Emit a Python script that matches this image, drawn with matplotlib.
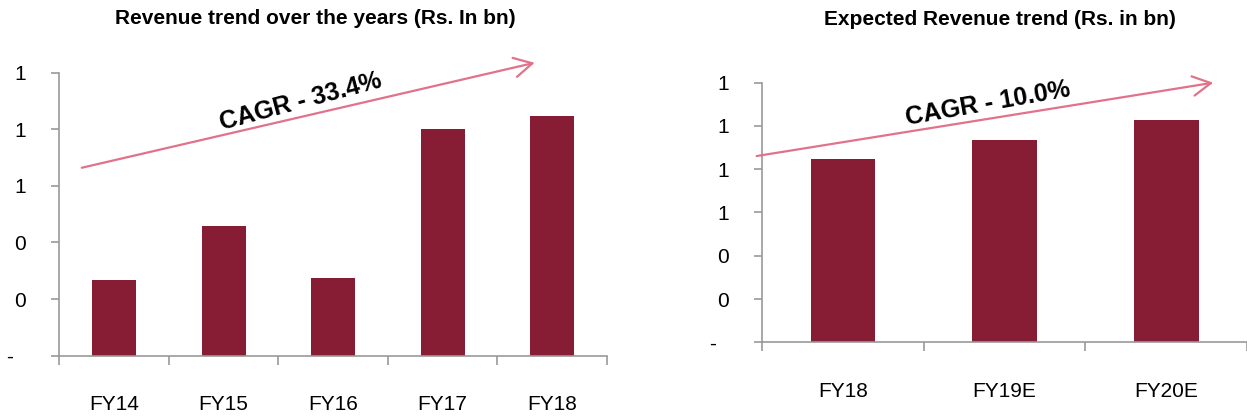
import matplotlib
matplotlib.use('Agg')
from matplotlib import pyplot as plt
from matplotlib.ticker import FixedLocator

plt.rcParams['font.family'] = ['Liberation Sans', 'DejaVu Sans']

# Historic revenue (Rs. bn)
years_hist = ['FY14', 'FY15', 'FY16', 'FY17', 'FY18']
rev_hist = [0.268, 0.457, 0.276, 0.80, 0.848]
hist_ticks = [0, 0.2, 0.4, 0.6, 0.8, 1.0]
hist_tick_labels = ['-\u2007', '0', '0', '1', '1', '1']

# Expected revenue (Rs. bn)
years_exp = ['FY18', 'FY19E', 'FY20E']
rev_exp = [0.845, 0.937, 1.029]
exp_ticks = [0, 0.2, 0.4, 0.6, 0.8, 1.0, 1.2]
exp_tick_labels = ['-\u2007', '0', '0', '1', '1', '1', '1']

bar_color = '#861D34'
arrow_color = '#E2728A'
axis_color = '#999999'

fig = plt.figure(figsize=(12.47, 4.16), dpi=100)
ax1 = fig.add_axes([0.04755, 0.145, 0.4392, 0.6803])
ax2 = fig.add_axes([0.6113, 0.1772, 0.3887, 0.624])


def style_axis(ax, cats, vals, ticks, labels, ymax):
    x = list(range(len(cats)))
    ax.bar(x, vals, width=0.4, color=bar_color, zorder=2)
    ax.set_xlim(-0.5, len(cats) - 0.5)
    ax.set_ylim(0, ymax)
    ax.set_yticks(ticks)
    ax.set_yticklabels(labels)
    ax.set_xticks(x)
    ax.set_xticklabels(cats)
    ax.xaxis.set_minor_locator(FixedLocator([i - 0.5 for i in range(len(cats) + 1)]))
    ax.tick_params(axis='x', which='major', length=0, pad=28.5, labelsize=15)
    ax.tick_params(axis='x', which='minor', length=6.5, width=1.2,
                   color=axis_color, direction='out')
    ax.tick_params(axis='y', length=6, width=1.2, color=axis_color,
                   pad=18, labelsize=15)
    for s in ['top', 'right']:
        ax.spines[s].set_visible(False)
    for s in ['left', 'bottom']:
        ax.spines[s].set_color(axis_color)
        ax.spines[s].set_linewidth(1.2)


style_axis(ax1, years_hist, rev_hist, hist_ticks, hist_tick_labels, 1.0)
style_axis(ax2, years_exp, rev_exp, exp_ticks, exp_tick_labels, 1.2)

# CAGR arrows
arrow = dict(arrowstyle='->,head_length=0.65,head_width=0.35',
             color=arrow_color, lw=1.6, mutation_scale=20, shrinkA=0, shrinkB=0)
ax1.annotate('', xy=(3.84, 1.035), xytext=(-0.295, 0.664),
             arrowprops=arrow, annotation_clip=False)
ax1.text(1.706, 0.896, 'CAGR - 33.4%', fontsize=18, fontweight='bold',
         rotation=15, ha='center', va='center', rotation_mode='anchor')

ax2.annotate('', xy=(2.291, 1.2), xytext=(-0.535, 0.861),
             arrowprops=arrow, annotation_clip=False)
ax2.text(0.897, 1.101, 'CAGR - 10.0%', fontsize=18, fontweight='bold',
         rotation=10, ha='center', va='center', rotation_mode='anchor')

# Titles
fig.text(0.253, 0.956, 'Revenue trend over the years (Rs. In bn)',
         fontsize=15, fontweight='bold', ha='center', va='center')
fig.text(0.802, 0.952, 'Expected Revenue trend (Rs. in bn)',
         fontsize=15, fontweight='bold', ha='center', va='center')

fig.savefig('out.png', dpi=100)
